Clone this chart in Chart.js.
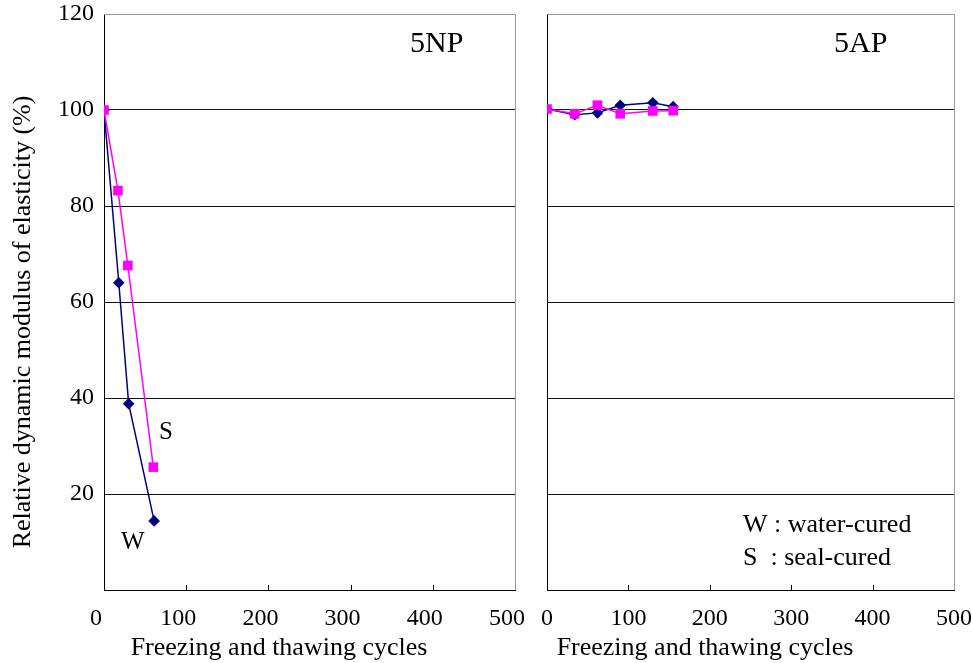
<!DOCTYPE html>
<html>
<head>
<meta charset="utf-8">
<script src="https://cdn.jsdelivr.net/npm/chart.js@4.4.1/dist/chart.umd.min.js"></script>
<style>
  body { margin: 0; background: #fff; }
  #wrap { position: relative; width: 972px; height: 663px; background: #fff; }
  canvas { position: absolute; top: 0; }
  #left { left: 0; }
  #right { left: 530px; }
</style>
</head>
<body>
<div id="wrap">
  <canvas id="left" width="530" height="663"></canvas>
  <canvas id="right" width="442" height="663"></canvas>
</div>
<script>
// 5NP panel
const cyclesNP_W = [0, 18, 30, 61];
const modNP_W = [100, 64, 38.8, 14.4];
const cyclesNP_S = [0, 17, 29, 60];
const modNP_S = [100, 83.2, 67.6, 25.6];

// 5AP panel
const cyclesAP = [0, 34, 62, 90, 130, 155];
const modAP_W = [100.2, 99.0, 99.4, 101.0, 101.5, 100.7];
const modAP_S = [100.2, 99.2, 101.0, 99.2, 99.8, 99.85];

const xTicks = [0, 100, 200, 300, 400, 500];
const yTicks = [0, 20, 40, 60, 80, 100, 120];

const xTitle = 'Freezing and thawing cycles';
const yTitle = 'Relative dynamic modulus of elasticity (%)';

const serif = "'Liberation Serif', 'Times New Roman', serif";
const navy = '#000080';
const magenta = '#ff00ff';

function pts(xs, ys) {
    return xs.map((x, i) => ({ x: x, y: ys[i] }));
}

function series(label, xs, ys, color, style, r) {
    return {
        label: label,
        data: pts(xs, ys),
        showLine: true,
        borderColor: color,
        backgroundColor: color,
        borderWidth: 1.5,
        pointStyle: style,
        pointRadius: r,
        pointHoverRadius: r,
        pointBorderWidth: 0
    };
}

// draws the grey top/right frame, inward x ticks and free text
const frame = {
    id: 'frame',
    afterDraw(chart, args, opts) {
        const { ctx, chartArea: a, scales } = chart;
        ctx.save();
        ctx.lineWidth = 1;
        ctx.strokeStyle = '#999';
        ctx.beginPath();
        ctx.moveTo(a.left, Math.round(a.top) + 0.5);
        ctx.lineTo(Math.round(a.right) + 0.5, Math.round(a.top) + 0.5);
        ctx.lineTo(Math.round(a.right) + 0.5, a.bottom);
        ctx.stroke();

        ctx.strokeStyle = '#000';
        ctx.beginPath();
        xTicks.forEach(v => {
            if (v > 0 && v < 500) {
                const px = Math.round(scales.x.getPixelForValue(v)) + 0.5;
                ctx.moveTo(px, a.bottom);
                ctx.lineTo(px, a.bottom - 5);
            }
        });
        ctx.stroke();

        ctx.fillStyle = '#000';
        ctx.textBaseline = 'alphabetic';
        (opts.texts || []).forEach(t => {
            ctx.font = t.size + 'px ' + serif;
            ctx.textAlign = t.align || 'left';
            if (t.rotate) {
                ctx.save();
                ctx.translate(t.x, t.y);
                ctx.rotate(-Math.PI / 2);
                ctx.textAlign = 'center';
                ctx.fillText(t.text, 0, 0);
                ctx.restore();
            } else {
                ctx.fillText(t.text, t.x, t.y);
            }
        });
        ctx.restore();
    }
};

function makeOptions(showY, yWidth, padRight, labelOffset, texts) {
    return {
        responsive: false,
        animation: false,
        layout: { padding: { left: 0, right: padRight, top: 14, bottom: 0 } },
        plugins: {
            legend: { display: false },
            tooltip: { enabled: false },
            frame: { texts: texts }
        },
        scales: {
            x: {
                type: 'linear',
                min: 0,
                max: 500,
                afterBuildTicks: s => { s.ticks = xTicks.map(v => ({ value: v })); },
                grid: { display: false },
                border: { display: true, color: '#000', width: 1 },
                ticks: {
                    color: '#000',
                    font: { family: serif, size: 24 },
                    padding: 6,
                    labelOffset: labelOffset,
                    maxRotation: 0,
                    autoSkip: false
                },
                afterFit: s => { s.height = 73; s.paddingLeft = 0; s.paddingRight = 0; }
            },
            y: {
                min: 0,
                max: 120,
                afterBuildTicks: s => { s.ticks = yTicks.map(v => ({ value: v })); },
                grid: {
                    drawTicks: false,
                    color: c => (c.tick && c.tick.value === 120) ? 'rgba(0,0,0,0)' : '#111',
                    lineWidth: 1
                },
                border: { display: true, color: '#000', width: 1 },
                ticks: {
                    display: showY,
                    color: '#000',
                    font: { family: serif, size: 24 },
                    padding: 10,
                    callback: v => (v === 0 ? '' : v)
                },
                afterFit: s => { s.width = yWidth; s.paddingTop = 0; s.paddingBottom = 0; }
            }
        }
    };
}

new Chart(document.getElementById('left'), {
    type: 'scatter',
    data: {
        datasets: [
            series('S', cyclesNP_S, modNP_S, magenta, 'rect', 6.8),
            series('W', cyclesNP_W, modNP_W, navy, 'rectRot', 5.8)
        ]
    },
    options: makeOptions(true, 104, 15, -8, [
        { text: '5NP', x: 410, y: 52, size: 30 },
        { text: 'S', x: 159, y: 439, size: 25 },
        { text: 'W', x: 121, y: 549, size: 25 },
        { text: xTitle, x: 279, y: 655, size: 26, align: 'center' },
        { text: yTitle, x: 30, y: 322, size: 26, rotate: true }
    ]),
    plugins: [frame]
});

new Chart(document.getElementById('right'), {
    type: 'scatter',
    data: {
        datasets: [
            series('S', cyclesAP, modAP_S, magenta, 'rect', 6.8),
            series('W', cyclesAP, modAP_W, navy, 'rectRot', 5.8)
        ]
    },
    options: makeOptions(false, 17, 18, 0, [
        { text: '5AP', x: 834 - 530, y: 52, size: 30 },
        { text: 'W : water-cured', x: 743 - 530, y: 532, size: 26 },
        { text: 'S  : seal-cured', x: 743 - 530, y: 565, size: 26 },
        { text: xTitle, x: 705 - 530, y: 655, size: 26, align: 'center' }
    ]),
    plugins: [frame]
});
</script>
</body>
</html>
